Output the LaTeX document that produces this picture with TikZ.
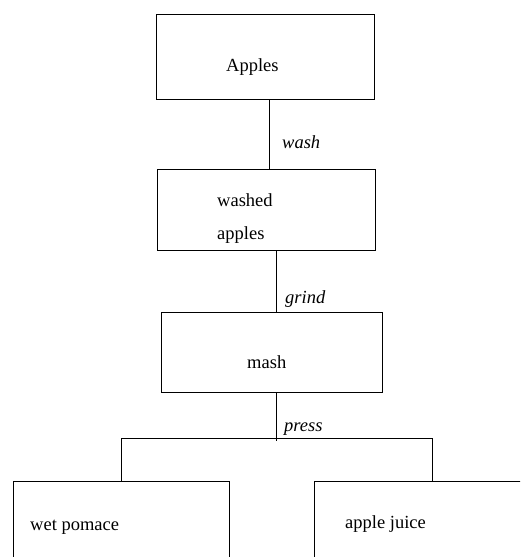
\documentclass[tikz,border=0pt]{standalone}
\usepackage{fontspec}
\setmainfont{Liberation Serif}
\begin{document}
\begin{tikzpicture}[x=1pt,y=-1pt,
  box/.style={draw, line width=0.9pt, inner sep=0pt, outer sep=0pt, anchor=north west},
  txt/.style={font=\fontsize{18.5}{20}\selectfont, inner sep=0pt, anchor=base west},
  act/.style={txt, font=\fontsize{18.5}{20}\selectfont\itshape},
  link/.style={line width=0.9pt}]
\useasboundingbox (0,0) rectangle (520,557);
\clip (0,0) rectangle (520,557);

% process boxes
\node[box, minimum width=218pt, minimum height=85pt] (apples) at (156,14) {};
\node[box, minimum width=218pt, minimum height=81pt] (washed) at (157,169) {};
\node[box, minimum width=221pt, minimum height=80pt] (mash) at (161,312) {};
\node[box, minimum width=216pt, minimum height=120pt] (pomace) at (13,481) {};
\node[box, minimum width=250pt, minimum height=120pt] (juice) at (314,481) {};

% box texts
\node[txt] (tapples) at (226,71) {Apples};
\node[txt] (twashed) at (217,206) {washed};
\node[txt] (twapples) at (217,239) {apples};
\node[txt] (tmash) at (247,368) {mash};
\node[txt] (tpomace) at (30,530) {wet pomace};
\node[txt] (tjuice) at (345,528) {apple juice};

% step labels
\node[act] (lwash) at (282,148) {wash};
\node[act] (lgrind) at (285,303) {grind};
\node[act] (lpress) at (284,431) {press};

% connector guides
\coordinate (j1) at (269,0);
\coordinate (j2) at (276,0);
\coordinate (split) at (276,438);
\coordinate (lft) at (121,438);
\coordinate (rgt) at (432,438);

\draw[link] (apples.south -| j1) -- (washed.north -| j1);
\draw[link] (washed.south -| j2) -- (mash.north -| j2);
\draw[link] (mash.south -| j2) -- ([yshift=-3pt]split);
\draw[link] (pomace.north -| lft) -- (lft) -- (rgt) -- (juice.north -| rgt);
\end{tikzpicture}
\end{document}
